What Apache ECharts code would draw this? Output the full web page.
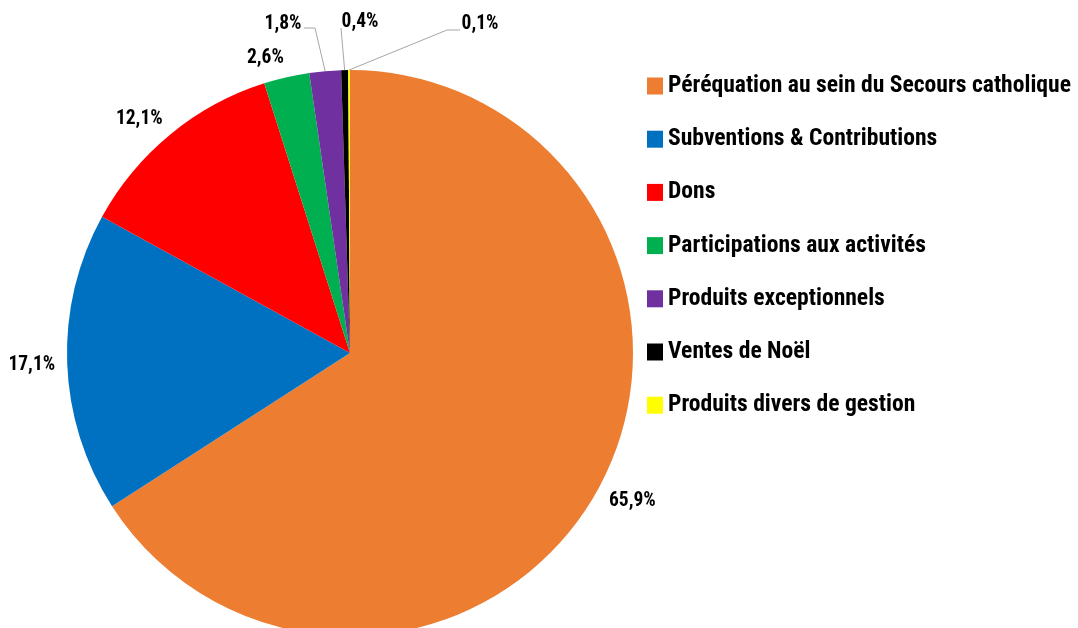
<!DOCTYPE html>
<html>
<head>
<meta charset="utf-8">
<script src="https://cdn.jsdelivr.net/npm/echarts@6/dist/echarts.min.js"></script>
<style>
  html, body { margin: 0; padding: 0; background: #fff; }
  #chart { width: 1078px; height: 628px; }
</style>
</head>
<body>
<div id="chart"></div>
<script>
// categories and shares (%)
var names = [
  "Péréquation au sein du Secours catholique",
  "Subventions & Contributions",
  "Dons",
  "Participations aux activités",
  "Produits exceptionnels",
  "Ventes de Noël",
  "Produits divers de gestion"
];
var values = [65.9, 17.1, 12.1, 2.6, 1.8, 0.4, 0.1];
var colors = ["#ED7D31", "#0070C0", "#FF0000", "#00B050", "#7030A0", "#000000", "#FFFF00"];

var FONT = "'Roboto Condensed', Roboto, sans-serif";
var cx = 350, cy = 353, r = 283;
var gap = 12; // space between the pie edge and its labels

// mid angle of each slice (clockwise from top)
var total = values.reduce(function (a, b) { return a + b; }, 0);
var midAngle = [];
var acc = 0;
values.forEach(function (v) {
  midAngle.push((acc + v / 2) / total * Math.PI * 2);
  acc += v;
});

// hand placed callouts for the tiny slices (like the dragged labels in the source)
var callouts = {
  4: { x: 283, y: 24, line: [[315, 28], [304, 28]] },
  5: { x: 360, y: 22, line: [[341, 28], [341, 28]] },
  6: { x: 480, y: 24, line: [[447, 30], [460, 30]] }
};

var chart = echarts.init(document.getElementById("chart"));

chart.setOption({
  animation: false,
  color: colors,
  legend: {
    orient: "vertical",
    left: 647,
    top: 74,
    padding: 0,
    itemWidth: 16,
    itemHeight: 17,
    itemGap: 29.2,
    icon: "rect",
    textStyle: {
      fontFamily: FONT,
      fontWeight: "bold",
      fontSize: 23.6,
      lineHeight: 24,
      color: "#000"
    },
    data: names
  },
  series: [
    {
      type: "pie",
      center: [cx, cy],
      radius: r,
      startAngle: 90,
      clockwise: true,
      avoidLabelOverlap: false,
      itemStyle: { borderWidth: 0 },
      label: {
        show: true,
        position: "outside",
        fontFamily: FONT,
        fontWeight: "bold",
        fontSize: 19.5,
        color: "#000",
        formatter: function (p) {
          return p.value.toFixed(1).replace(".", ",") + "%";
        }
      },
      labelLine: {
        lineStyle: { color: "#A6A6A6", width: 1 }
      },
      labelLayout: function (p) {
        var i = p.dataIndex;
        var a = midAngle[i];
        var dx = Math.sin(a), dy = -Math.cos(a);
        var x1 = cx + r * dx, y1 = cy + r * dy;
        var c = callouts[i];
        if (c) {
          return {
            x: c.x,
            y: c.y,
            align: "center",
            verticalAlign: "middle",
            labelLinePoints: [[x1, y1], c.line[0], c.line[1]]
          };
        }
        var w = p.labelRect.width, h = p.labelRect.height;
        return {
          x: x1 + dx * gap + (dx < 0 ? -1 : 1) * w / 2,
          y: y1 + dy * gap + dy * h / 2 + 2,
          align: "center",
          verticalAlign: "middle"
        };
      },
      emphasis: { disabled: true },
      data: names.map(function (n, i) {
        return {
          name: n,
          value: values[i],
          labelLine: { show: !!callouts[i] }
        };
      })
    }
  ]
});
</script>
</body>
</html>
